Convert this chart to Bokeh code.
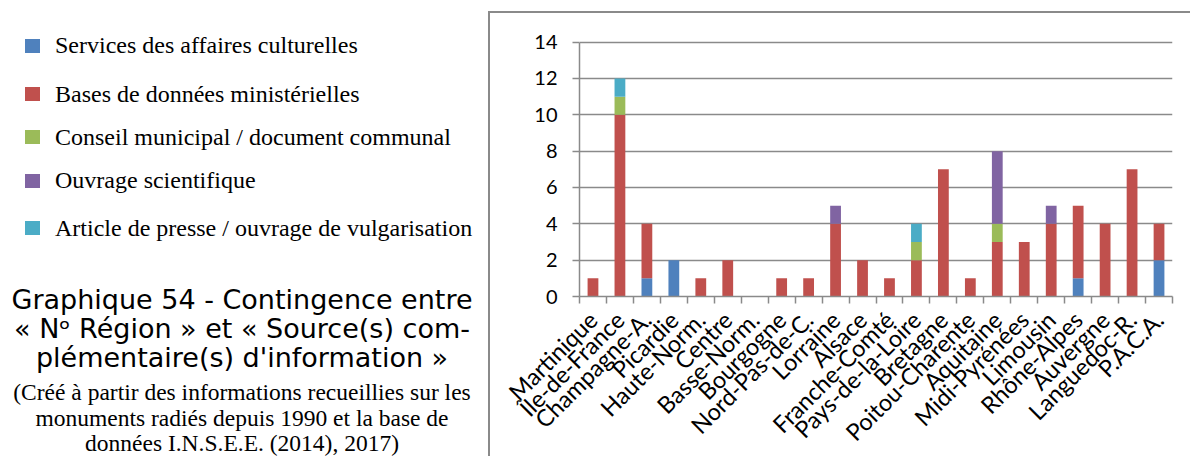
import math
from bokeh.plotting import figure
from bokeh.models import Range1d, FixedTicker, ColumnDataSource, Div, Spacer
from bokeh.layouts import row, column
from bokeh.embed import file_html
from bokeh.resources import INLINE

# ---------------- data ----------------
regions = ["Martinique", "Île-de-France", "Champagne-A.", "Picardie", "Haute-Norm.",
           "Centre", "Basse-Norm.", "Bourgogne", "Nord-Pas-de-C.", "Lorraine",
           "Alsace", "Franche-Comté", "Pays-de-la-Loire", "Bretagne",
           "Poitou-Charente", "Aquitaine", "Midi-Pyrénées", "Limousin",
           "Rhône-Alpes", "Auvergne", "Languedoc-R.", "P.A.C.A."]

series_names = ["Services des affaires culturelles",
                "Bases de données ministérielles",
                "Conseil municipal / document communal",
                "Ouvrage scientifique",
                "Article de presse / ouvrage de vulgarisation"]

services = [0, 0, 1, 2, 0, 0, 0, 0, 0, 0, 0, 0, 0, 0, 0, 0, 0, 0, 1, 0, 0, 2]
bases    = [1, 10, 3, 0, 1, 2, 0, 1, 1, 4, 2, 1, 2, 7, 1, 3, 3, 4, 4, 4, 7, 2]
conseil  = [0, 1, 0, 0, 0, 0, 0, 0, 0, 0, 0, 0, 1, 0, 0, 1, 0, 0, 0, 0, 0, 0]
ouvrage  = [0, 0, 0, 0, 0, 0, 0, 0, 0, 1, 0, 0, 0, 0, 0, 4, 0, 1, 0, 0, 0, 0]
article  = [0, 1, 0, 0, 0, 0, 0, 0, 0, 0, 0, 0, 1, 0, 0, 0, 0, 0, 0, 0, 0, 0]

y_ticks = [0, 2, 4, 6, 8, 10, 12, 14]

title_lines = ["Graphique 54 - Contingence entre",
               "« N\u1d52 Région » et « Source(s) com-",
               "plémentaire(s) d'information »"]
note_lines = ["(Créé à partir des informations recueillies sur les",
              "monuments radiés depuis 1990 et la base de",
              "données I.N.S.E.E. (2014), 2017)"]

# ---------------- styles ----------------
colors = ["#4F81BD", "#C0504D", "#9BBB59", "#8064A2", "#4BACC6"]
GRAY = "#8a8a8a"

# ---------------- chart ----------------
n = len(regions)
keys = ["s0", "s1", "s2", "s3", "s4"]
src = ColumnDataSource(dict(x=list(range(n)), s0=services, s1=bases, s2=conseil,
                            s3=ouvrage, s4=article))

p = figure(width=702, height=445, x_range=Range1d(-0.5, n - 0.5),
           y_range=Range1d(0, 14.2), output_backend="svg", toolbar_location=None,
           min_border_left=89, min_border_right=20, min_border_top=25,
           min_border_bottom=161, margin=0)
p.outline_line_color = None
p.styles = {"box-shadow": "-2px -2px 0 0 " + GRAY}

p.vbar_stack(keys, x="x", width=0.4, source=src, fill_color=colors, line_color=None)

yt = FixedTicker(ticks=y_ticks)
p.yaxis.ticker = yt
p.yaxis.bounds = (0, 14)
p.yaxis.axis_line_color = GRAY
p.yaxis.axis_line_width = 1.5
p.yaxis.major_tick_line_color = GRAY
p.yaxis.major_tick_line_width = 1.5
p.yaxis.major_tick_out = 7
p.yaxis.major_tick_in = 0
p.yaxis.minor_tick_line_color = None
p.yaxis.major_label_standoff = 15
p.yaxis.major_label_text_font = "Lato"
p.yaxis.major_label_text_font_size = "20px"
p.yaxis.major_label_text_color = "#000000"

p.ygrid.ticker = yt
p.ygrid.grid_line_color = GRAY
p.ygrid.grid_line_width = 1.5
p.xgrid.visible = False

p.xaxis.ticker = FixedTicker(ticks=list(range(n)),
                             minor_ticks=[i - 0.5 for i in range(n + 1)])
p.xaxis.major_label_overrides = {i: r for i, r in enumerate(regions)}
p.xaxis.axis_line_color = GRAY
p.xaxis.axis_line_width = 1.5
p.xaxis.major_tick_line_color = None
p.xaxis.major_tick_out = 7
p.xaxis.major_tick_in = 0
p.xaxis.minor_tick_line_color = GRAY
p.xaxis.minor_tick_line_width = 1.5
p.xaxis.minor_tick_out = 7
p.xaxis.minor_tick_in = 0
p.xaxis.major_label_orientation = math.pi / 4
p.xaxis.major_label_standoff = 12
p.xaxis.major_label_text_font = "Lato"
p.xaxis.major_label_text_font_size = "23.5px"
p.xaxis.major_label_text_color = "#000000"

# ---------------- side panel: legend + caption (HTML text) ----------------
leg_base = [53.3, 101.7, 145, 188.3, 236]
parts = ['<div style="position:relative;width:490px;height:458px;color:#000;'
         'white-space:nowrap;margin:0;padding:0;">']
for name, col, yb in zip(series_names, colors, leg_base):
    parts.append('<div style="position:absolute;left:25px;top:%.1fpx;width:15px;'
                 'height:14px;background:%s;"></div>' % (yb - 14.8, col))
    parts.append('<div style="position:absolute;left:55px;top:%.1fpx;'
                 'font-family:\'Liberation Serif\';font-size:24px;line-height:24px;">'
                 '%s</div>' % (yb - 20.1, name))
for line, yb in zip(title_lines, [309, 338, 366.5]):
    parts.append('<div style="position:absolute;left:0;width:484px;text-align:center;'
                 'top:%.1fpx;font-family:\'DejaVu Sans\';font-size:27px;'
                 'line-height:27px;">%s</div>' % (yb - 22.8, line))
for line, yb in zip(note_lines, [401, 426.5, 452]):
    parts.append('<div style="position:absolute;left:0;width:484px;text-align:center;'
                 'top:%.1fpx;font-family:\'Liberation Serif\';font-size:23.5px;'
                 'line-height:23.5px;">%s</div>' % (yb - 19.7, line))
parts.append('</div>')
side = Div(text="".join(parts), width=490, height=458, margin=0)

layout = row(side, column(Spacer(width=10, height=13, margin=0), p, margin=0), margin=0)

open("out.html", "w").write(file_html(layout, INLINE))
